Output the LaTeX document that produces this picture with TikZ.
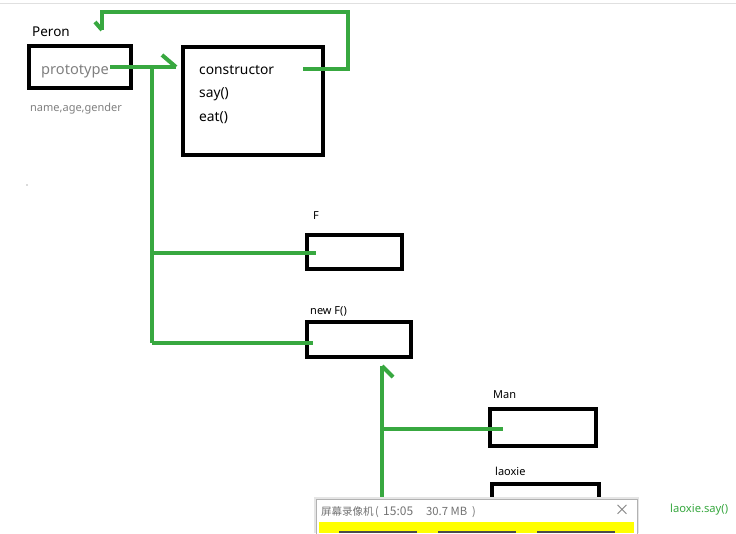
\documentclass[tikz,border=0pt]{standalone}
\usepackage{fontspec}
\setmainfont{Noto Sans}
\newfontfamily\cjk{Noto Sans CJK SC}
\definecolor{grn}{RGB}{56,168,64}
\definecolor{txtgray}{RGB}{128,128,128}
\definecolor{ylw}{RGB}{255,255,0}
\begin{document}
\begin{tikzpicture}[x=1pt,y=-1pt,
  box/.style={draw=black,line width=4pt,inner sep=0pt,outer sep=0pt},
  gline/.style={draw=grn,line width=4pt,line cap=butt,line join=miter},
  lbl/.style={anchor=base west,inner sep=0pt,font=\fontsize{13.8}{16}\selectfont},
  small/.style={anchor=base west,inner sep=0pt,font=\fontsize{11}{13}\selectfont},
  wtxt/.style={anchor=base west,inner sep=0pt,text=black!55,font=\cjk\fontsize{11}{13}\selectfont}]
\useasboundingbox (0,0) rectangle (736,533);
\fill[white] (0,0) rectangle (736,533);
\draw[color=black!12,line width=1pt] (0,3) -- (736,3);
\fill[black!60] (27,185) circle (0.7pt);

% boxes
\node[box,minimum width=102pt,minimum height=42pt] (peron) at (80,67) {};
\node[box,minimum width=140pt,minimum height=108pt] (ctor) at (253,101) {};
\node[box,minimum width=95pt,minimum height=34pt] (fbox) at (354.5,252) {};
\node[box,minimum width=104pt,minimum height=35pt] (newf) at (359,339.5) {};
\node[box,minimum width=106pt,minimum height=37pt] (man) at (543,427.5) {};
\node[box,minimum width=107pt,minimum height=40pt] (laoxie) at (545.5,504) {};

% labels
\node[lbl,font=\fontsize{13.5}{15}\selectfont] (tperon) at (32,36) {Peron};
\node[anchor=base west,inner sep=0pt,text=txtgray,font=\fontsize{14.6}{16}\selectfont] (tproto) at (41,74) {prototype};
\node[anchor=base west,inner sep=0pt,text=txtgray,font=\fontsize{11}{13}\selectfont] (tname) at (30,111) {name,age,gender};
\node[lbl] (tctor) at (199,74) {constructor};
\node[lbl] (tsay) at (199,97) {say()};
\node[lbl] (teat) at (199,121) {eat()};
\node[small] (tf) at (313,219) {F};
\node[small] (tnewf) at (310,314) {new F()};
\node[small] (tman) at (493,398) {Man};
\node[small] (tlaoxie) at (495,475) {laoxie};
\node[anchor=base west,inner sep=0pt,text=grn,font=\fontsize{11.2}{13}\selectfont] (tsay2) at (670,512) {laoxie.say()};

% connector points
\coordinate (c1) at (303,69);
\coordinate (c1a) at (348,69);
\coordinate (c1b) at (348,12);
\coordinate (c1c) at (102,12);
\coordinate (c1d) at (102,30);
\coordinate (c1e) at (95,22);
\coordinate (p1) at (110,67);
\coordinate (p2) at (176,67);
\coordinate (p2b) at (162,55);
\coordinate (v1) at (152,67);
\coordinate (v2) at (152,253);
\coordinate (v3) at (152,343);
\coordinate (f1) at (316,253);
\coordinate (n1) at (313,343);
\coordinate (w1) at (382,505);
\coordinate (w2) at (382,366);
\coordinate (w2b) at (393,377);
\coordinate (w3) at (382,429);
\coordinate (m1) at (503,429);

\draw[gline] (c1) -- (c1a) -- (c1b) -- (c1c) -- (c1d);
\draw[gline] (c1e) -- (c1d);
\draw[gline] (p1) -- (p2);
\draw[gline] (p2b) -- (p2);
\draw[gline] (v1) -- (v3);
\draw[gline] (v2) -- (f1);
\draw[gline] (v3) -- (n1);
\draw[gline] (w1) -- (w2);
\draw[gline] (w2) -- (w2b);
\draw[gline] (w3) -- (m1);

% recorder window
\fill[black!10] (314,497) rectangle (639,533);
\node[draw=black!30,fill=white,line width=0.8pt,anchor=north west,minimum width=321pt,minimum height=40pt,inner sep=0pt] (win) at (316,499) {};
\fill[ylw] (319,522) rectangle (634,533);
\foreach \bx in {339,438,537}{\fill[black!70] (\bx,531) rectangle (\bx+78,533);}
\node[wtxt,font=\cjk\fontsize{10.5}{12}\selectfont] (wtitle) at (321,515) {屏幕录像机};
\node[wtxt] (wpl) at (375,515) {(};
\node[wtxt,font=\cjk\fontsize{12}{14}\selectfont] (wtime) at (383,515) {15:05};
\node[wtxt,font=\cjk\fontsize{11.3}{13}\selectfont] (wsize) at (426,515) {30.7 MB};
\node[wtxt] (wpr) at (472,515) {)};
\node[anchor=center,inner sep=0pt,text=black!50,font=\cjk\fontsize{15}{15}\selectfont] (wclose) at (622,510) {×};
\end{tikzpicture}
\end{document}
